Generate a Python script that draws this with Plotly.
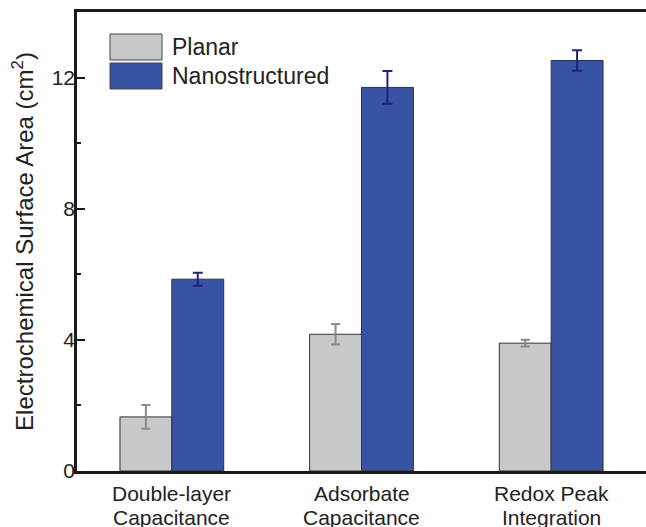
import plotly.graph_objects as go

categories = ["Double-layer<br>Capacitance", "Adsorbate<br>Capacitance", "Redox Peak<br>Integration"]
series_names = ["Planar", "Nanostructured"]
planar_values = [1.65, 4.17, 3.90]
planar_errors = [0.36, 0.31, 0.10]
nano_values = [5.85, 11.70, 12.52]
nano_errors = [0.20, 0.50, 0.31]
y_ticks = [0, 4, 8, 12]

planar_color = "#c8c9cb"
nano_color = "#3953a4"
font_family = "Liberation Sans, Arial, sans-serif"
text_color = "#222222"

fig = go.Figure()
fig.add_trace(go.Bar(
    x=categories, y=planar_values, name=series_names[0],
    marker=dict(color=planar_color, line=dict(color="#333333", width=1)),
    error_y=dict(type="data", array=planar_errors, color="#8a8a8a", thickness=2, width=4.5),
    showlegend=False,
))
fig.add_trace(go.Bar(
    x=categories, y=nano_values, name=series_names[1],
    marker=dict(color=nano_color, line=dict(color="#333333", width=1)),
    error_y=dict(type="data", array=nano_errors, color="#1d2470", thickness=2, width=5),
    showlegend=False,
))

L, R, T, B = 77, 646, 12, 471
def px(xp):
    return (xp - L) / (R - L)
def py(yp):
    return (B - yp) / (B - T)

# manual legend (large swatches like the reference)
swatches = [(34, 60, planar_color), (63, 89, nano_color)]
for (y0, y1, col), name in zip(swatches, series_names):
    fig.add_shape(type="rect", xref="paper", yref="paper",
                  x0=px(110), x1=px(162), y0=py(y1), y1=py(y0),
                  fillcolor=col, line=dict(color="#444444", width=1))
    fig.add_annotation(xref="paper", yref="paper", x=px(170), y=py((y0 + y1) / 2),
                       text=name, showarrow=False, xanchor="left", yanchor="middle",
                       font=dict(family=font_family, size=23, color=text_color))

# category labels, two lines each with tighter line spacing
line_centers = [494, 517]
for cat in categories:
    for line_text, yc in zip(cat.split("<br>"), line_centers):
        fig.add_annotation(xref="x", yref="paper", x=cat, y=py(yc),
                           text=line_text, showarrow=False, xanchor="center", yanchor="middle",
                           font=dict(family=font_family, size=21, color=text_color))

fig.update_layout(
    width=646, height=527,
    margin=dict(l=L, r=646 - R, t=T, b=527 - B),
    paper_bgcolor="white", plot_bgcolor="white",
    barmode="group", bargap=0.453, bargroupgap=0,
    font=dict(family=font_family, size=21, color=text_color),
)
fig.update_xaxes(
    range=[-0.5, 2.5], showline=True, linecolor="#1a1a1a", linewidth=2.5,
    mirror=True, ticks="", showgrid=False, zeroline=False,
    showticklabels=False, automargin=False,
)
fig.update_yaxes(
    range=[0, 14], tickvals=y_ticks, showline=True, linecolor="#1a1a1a", linewidth=2.5,
    ticks="inside", ticklen=8, tickwidth=2, tickcolor="#1a1a1a",
    minor=dict(tickvals=[2, 6, 10], ticks="inside", ticklen=4, tickwidth=2, tickcolor="#1a1a1a"),
    showgrid=False, zeroline=False, tickfont=dict(size=21),
    ticklabelstandoff=-5, automargin=False,
    title=dict(text="Electrochemical Surface Area (cm<sup>2</sup>)", font=dict(size=24), standoff=12),
)

fig.write_html(
    "out.html",
    config={"displayModeBar": False},
    post_script="document.body.style.margin='0px';document.body.style.overflow='hidden';",
)
